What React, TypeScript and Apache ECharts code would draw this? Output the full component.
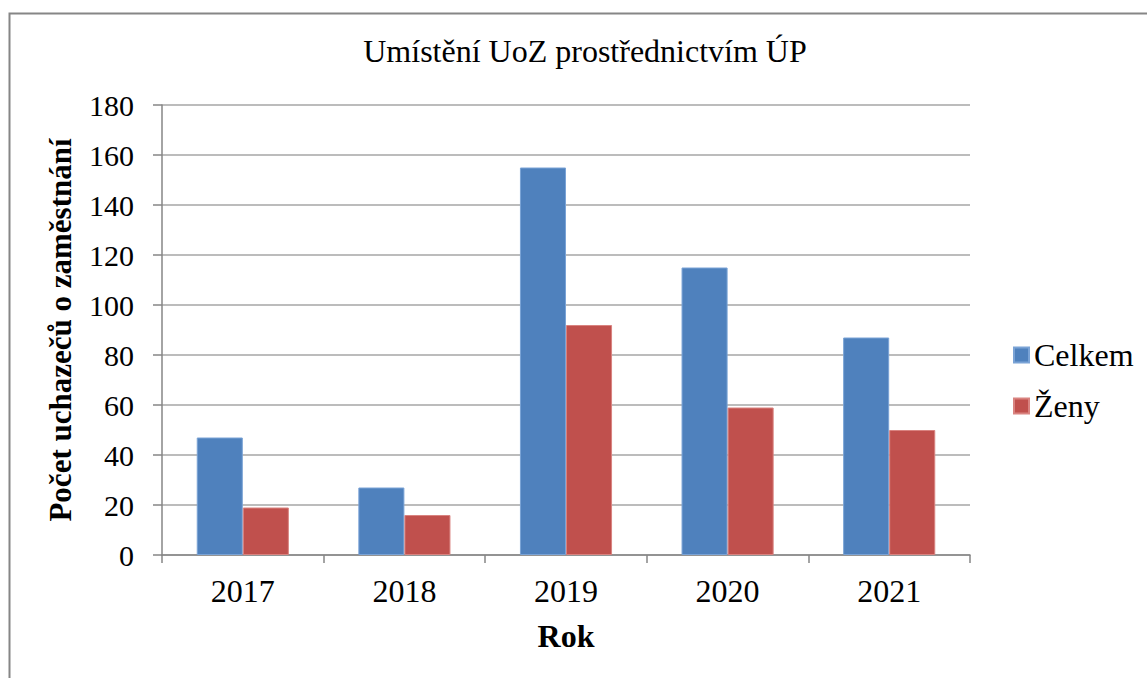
import React, { useEffect, useRef } from "react";
import * as echarts from "echarts";

const years = ["2017", "2018", "2019", "2020", "2021"];
const celkem = [47, 27, 155, 115, 87];
const zeny = [19, 16, 92, 59, 50];
const seriesNames = ["Celkem", "Ženy"];
const titleText = "Umístění UoZ prostřednictvím ÚP";
const yAxisName = "Počet uchazečů o zaměstnání";
const xAxisName = "Rok";

const FONT = "Liberation Serif";

export default function App() {
  const ref = useRef<HTMLDivElement>(null);
  useEffect(() => {
    if (!ref.current) return;
    const chart = echarts.init(ref.current, undefined, { renderer: "svg" });
    chart.setOption({
      animation: false,
      backgroundColor: "#ffffff",
      textStyle: { fontFamily: FONT, color: "#000" },
      title: {
        text: titleText,
        left: 580,
        top: 30,
        textAlign: "center",
        textStyle: { fontFamily: FONT, fontSize: 32, fontWeight: "normal", color: "#000" },
      },
      legend: {
        orient: "vertical",
        left: 1013,
        top: 339,
        padding: 0,
        itemWidth: 15,
        itemHeight: 15,
        itemGap: 19,
        itemTextGap: 8,
        icon: "rect",
        textStyle: { fontFamily: FONT, fontSize: 32, color: "#000" },
        data: seriesNames,
      },
      grid: { left: 162, top: 105, width: 808, height: 450, containLabel: false },
      xAxis: {
        type: "category",
        data: years,
        name: xAxisName,
        nameLocation: "middle",
        nameGap: 65,
        nameTextStyle: { fontFamily: FONT, fontSize: 32, fontWeight: "bold", color: "#000" },
        axisLine: { lineStyle: { color: "#868686", width: 1.5 } },
        axisTick: { show: true, alignWithLabel: false, length: 8, lineStyle: { color: "#868686", width: 1.5 } },
        axisLabel: { fontFamily: FONT, fontSize: 32, color: "#000", margin: 20 },
      },
      yAxis: {
        type: "value",
        min: 0,
        max: 180,
        interval: 20,
        name: yAxisName,
        nameLocation: "middle",
        nameGap: 86,
        nameTextStyle: { fontFamily: FONT, fontSize: 31, fontWeight: "bold", color: "#000" },
        axisLine: { show: true, lineStyle: { color: "#868686", width: 1.5 } },
        axisTick: { show: true, length: 9, lineStyle: { color: "#868686", width: 1.5 } },
        axisLabel: { fontFamily: FONT, fontSize: 30, color: "#000", margin: 28 },
        splitLine: { lineStyle: { color: "#a6a6a6", width: 1.5 } },
      },
      series: [
        {
          name: seriesNames[0],
          type: "bar",
          data: celkem,
          barGap: "0%",
          barCategoryGap: "43%",
          itemStyle: { color: "#4f81bd", borderColor: "#7aa3d6", borderWidth: 1 },
        },
        {
          name: seriesNames[1],
          type: "bar",
          data: zeny,
          itemStyle: { color: "#c0504d", borderColor: "#d98380", borderWidth: 1 },
        },
      ],
      graphic: [
        {
          type: "polyline",
          shape: { points: [[9.5, 678], [9.5, 13.5], [1147, 13.5]] },
          style: { stroke: "#868686", lineWidth: 2, fill: "none" },
          silent: true,
        },
      ],
    });
    return () => chart.dispose();
  }, []);
  return (
    <div
      ref={ref}
      style={{ position: "fixed", left: 0, top: 0, width: 1147, height: 678, background: "#fff" }}
    />
  );
}
